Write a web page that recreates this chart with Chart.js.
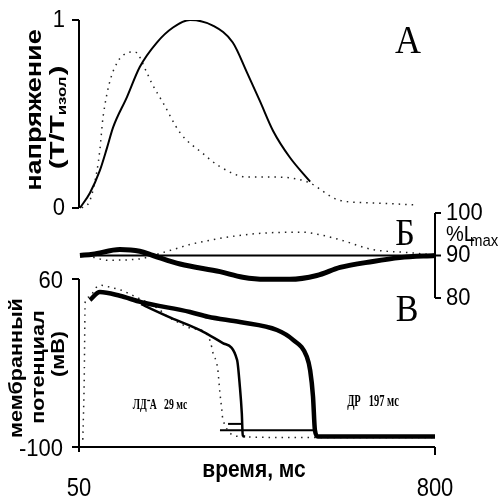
<!DOCTYPE html>
<html>
<head>
<meta charset="utf-8" />
<title>Сокращение и потенциал действия</title>
<script src="https://cdn.jsdelivr.net/npm/chart.js@4/dist/chart.umd.min.js"></script>
<style>
  html, body { margin: 0; padding: 0; background: #fff; }
  #wrap { width: 498px; height: 501px; }
</style>
</head>
<body>
<div id="wrap"><canvas id="myChart" width="498" height="501"></canvas></div>
<script>
// ---- data (time in ms) ----
var xTicks = [50, 800];

// A: tension T/Tизол
var tA_solid = [52, 73, 94, 109, 122, 151, 178, 214, 248, 284, 332, 374, 404, 431, 459, 494, 537];
var vA_solid = [0, 0.08, 0.20, 0.32, 0.43, 0.59, 0.75, 0.88, 0.96, 1.0, 0.97, 0.88, 0.72, 0.57, 0.41, 0.27, 0.14];
var tA_dots = [56, 73, 88, 94, 101, 132, 168, 193, 204, 227, 263, 311, 347, 404, 459, 530, 600, 669, 762];
var vA_dots = [0, 0.04, 0.2, 0.31, 0.49, 0.78, 0.83, 0.72, 0.66, 0.56, 0.40, 0.29, 0.22, 0.165, 0.165, 0.14, 0.04, 0.027, 0.016];
var yTicksA = [0, 1];

// Б: length %Lmax
var tB_ref = [52, 800];
var vB_ref = [90, 90];
var tB_thick = [52, 79, 136, 178, 206, 263, 347, 395, 442, 494, 551, 600, 669, 726, 800];
var vB_thick = [90, 90.3, 91.4, 91.0, 90, 88, 86.2, 84.9, 84.4, 84.4, 85.3, 87.2, 88.6, 89.5, 90];
var tB_dots = [80, 109, 178, 206, 227, 263, 284, 410, 522, 557, 600, 669, 741, 796];
var vB_dots = [89.6, 88.9, 89.2, 90, 90.7, 91.9, 92.6, 95, 95.5, 94.9, 93.7, 91.4, 90.7, 90.2];
var yTicksB = [80, 90, 100];

// В: membrane potential, mV
var tV_thick = [73, 94, 136, 181, 284, 322, 389, 467, 501, 530, 537, 543, 547, 553, 800];
var vV_thick = [40, 47.6, 44, 38, 28.6, 24, 19, 11.4, 2, -14, -27, -52, -84, -90, -90];
var tV_thin = [181, 244, 305, 353, 383, 389, 393, 395, 400];
var vV_thin = [36, 23, 11.4, -1, -17, -43, -68, -89, -90];
var tV_dots = [58, 61, 63, 73, 84, 96, 117, 138, 160, 216, 237, 258, 286, 315, 327, 332, 342, 347, 351, 353, 389, 500, 650, 800];
var vV_dots = [-93, -36, 38, 43, 51, 54, 52, 49.5, 45, 32, 24, 19, 13, 9.5, 0, -10, -25, -49, -65, -74, -90, -91, -91, -91];
var tV_barLong = [347, 547];
var vV_barLong = [-84, -84];
var tV_barShort = [364, 395];
var vV_barShort = [-78, -78];
var yTicksV = [-100, 60];

function pts(xs, ys) {
  return xs.map(function (v, i) { return { x: v, y: ys[i] }; });
}

// chart area in pixels (x axis 50..800 spans 79..435)
var areaTop = 20, areaBottom = 447;
// value range for a hidden y scale so that vHi sits at pHi and vLo at pLo
function range(vHi, pHi, vLo, pLo) {
  var k = (vHi - vLo) / (pLo - pHi);
  return { max: vHi + (pHi - areaTop) * k, min: vLo - (areaBottom - pLo) * k };
}
var rA = range(1, 20, 0, 208);
var rB = range(100, 213, 80, 298);
var rV = range(60, 279, -100, 447);

function ds(data, axis, width, dash, color) {
  return {
    data: data, yAxisID: axis, borderColor: color || '#000', borderWidth: width,
    borderDash: dash || [], pointRadius: 0, fill: false,
    tension: 0.4, cubicInterpolationMode: 'monotone'
  };
}

var SANS = '"Liberation Sans", Arial, sans-serif';

function txt(ctx, s, x, y, font, align, sy) {
  ctx.save();
  ctx.translate(x, y);
  ctx.scale(1, sy || 1);
  ctx.font = font;
  ctx.textAlign = align || 'center';
  ctx.textBaseline = 'middle';
  ctx.fillText(s, 0, 0);
  ctx.restore();
}

// rotated text, stretched along its length by k
function vtxt(ctx, s, x, y, font, k) {
  ctx.save();
  ctx.translate(x, y);
  ctx.rotate(-Math.PI / 2);
  ctx.scale(k || 1, 1);
  ctx.font = font;
  ctx.textAlign = 'center';
  ctx.textBaseline = 'middle';
  ctx.fillText(s, 0, 0);
  ctx.restore();
}

var axesPlugin = {
  id: 'axes',
  afterDraw: function (chart) {
    var ctx = chart.ctx, s = chart.scales;
    var x0 = s.x.getPixelForValue(xTicks[0]), x1 = s.x.getPixelForValue(xTicks[1]);
    ctx.save();
    ctx.strokeStyle = '#000';
    ctx.fillStyle = '#000';
    ctx.lineWidth = 2;
    function seg(a, b, c, d) { ctx.beginPath(); ctx.moveTo(a, b); ctx.lineTo(c, d); ctx.stroke(); }
    var num = '22px ' + SANS;

    // A axis
    var a1 = s.yA.getPixelForValue(yTicksA[1]), a0 = s.yA.getPixelForValue(yTicksA[0]);
    seg(x0, a1, x0, a0);
    yTicksA.forEach(function (v) {
      var p = s.yA.getPixelForValue(v);
      seg(x0 - 7, p, x0, p);
      txt(ctx, String(v), x0 - 14, p, num, 'right', 1.12);
    });

    // В axis
    var v1 = s.yV.getPixelForValue(yTicksV[1]), v0 = s.yV.getPixelForValue(yTicksV[0]);
    seg(x0, v1, x0, v0);
    yTicksV.forEach(function (v) {
      var p = s.yV.getPixelForValue(v);
      seg(x0 - 7, p, x0, p);
      txt(ctx, String(v), x0 - 16, p + 2, num, 'right', 1.12);
    });

    // x axis
    seg(x0 - 6, v0, x1, v0);
    seg(x0, v0, x0, v0 + 5);
    seg(x1, v0, x1, v0 + 8);
    xTicks.forEach(function (v) {
      txt(ctx, String(v), s.x.getPixelForValue(v), 489, num, 'center', 1.15);
    });
    txt(ctx, 'время, мс', 254, 470, 'bold 21px ' + SANS, 'center', 1.15);

    // Б axis (right)
    var b1 = s.yB.getPixelForValue(100), b0 = s.yB.getPixelForValue(80);
    seg(x1, b1, x1, b0);
    yTicksB.forEach(function (v) {
      var p = s.yB.getPixelForValue(v);
      seg(x1, p, x1 + 6, p);
      txt(ctx, String(v), x1 + 11, p, num, 'left', 1.12);
    });
    var pm = (b1 + s.yB.getPixelForValue(90)) / 2 + 1;
    txt(ctx, '%L', x1 + 11, pm, '20px ' + SANS, 'left', 1.1);
    txt(ctx, 'max', x1 + 35, pm + 6, '15px ' + SANS, 'left', 1.1);

    // axis titles
    vtxt(ctx, 'напряжение', 35, 110, 'bold 22px ' + SANS, 1.23);
    ctx.save();
    ctx.translate(58, 118);
    ctx.rotate(-Math.PI / 2);
    ctx.scale(1.4, 1);
    ctx.textBaseline = 'middle';
    ctx.font = 'bold 21px ' + SANS;
    var w1 = ctx.measureText('(T/T').width;
    ctx.font = 'bold 12px ' + SANS;
    var w2 = ctx.measureText('изол').width;
    ctx.font = 'bold 21px ' + SANS;
    var w3 = ctx.measureText(')').width;
    var start = -(w1 + w2 + w3) / 2;
    ctx.textAlign = 'left';
    ctx.fillText('(T/T', start, 0);
    ctx.font = 'bold 12px ' + SANS;
    ctx.fillText('изол', start + w1, 5);
    ctx.font = 'bold 21px ' + SANS;
    ctx.fillText(')', start + w1 + w2 + 1, 0);
    ctx.restore();

    vtxt(ctx, 'мембранный', 17, 368, 'bold 18px ' + SANS, 1.2);
    vtxt(ctx, 'потенциал', 39, 367, 'bold 18px ' + SANS, 1.2);
    vtxt(ctx, '(мВ)', 59, 354, 'bold 18px ' + SANS, 1.2);

    // panel letters
    txt(ctx, 'A', 408, 43, '36px "Liberation Serif", "DejaVu Serif", serif', 'center', 1.1);
    txt(ctx, 'Б', 405, 235, '34px "Liberation Serif", "DejaVu Serif", serif', 'center', 1.1);
    txt(ctx, 'В', 407, 311, '34px "Liberation Serif", "DejaVu Serif", serif', 'center', 1.1);

    // duration notes
    ctx.save();
    ctx.translate(160, 405);
    ctx.scale(0.75, 1.1);
    ctx.font = 'bold 13px "Liberation Serif", serif';
    ctx.textAlign = 'center';
    ctx.textBaseline = 'middle';
    ctx.fillText('ЛД\u207BА   29 мс', 0, 0);
    ctx.restore();
    ctx.save();
    ctx.translate(373, 402);
    ctx.scale(0.75, 1.15);
    ctx.font = 'bold 14px "Liberation Serif", serif';
    ctx.textAlign = 'center';
    ctx.textBaseline = 'middle';
    ctx.fillText('ДР   197 мс', 0, 0);
    ctx.restore();

    ctx.restore();
  }
};

var ctx = document.getElementById('myChart');
var myChart = new Chart(ctx, {
  type: 'line',
  data: {
    datasets: [
      ds(pts(tA_solid, vA_solid), 'yA', 2),
      ds(pts(tA_dots, vA_dots), 'yA', 1.5, [1.5, 5], '#222'),
      ds(pts(tB_ref, vB_ref), 'yB', 2),
      ds(pts(tB_thick, vB_thick), 'yB', 5),
      ds(pts(tB_dots, vB_dots), 'yB', 1.5, [1.5, 5], '#222'),
      ds(pts(tV_thick, vV_thick), 'yV', 4.5),
      ds(pts(tV_thin, vV_thin), 'yV', 2.5),
      ds(pts(tV_dots, vV_dots), 'yV', 1.5, [1.5, 5], '#222'),
      ds(pts(tV_barLong, vV_barLong), 'yV', 2),
      ds(pts(tV_barShort, vV_barShort), 'yV', 2)
    ]
  },
  options: {
    responsive: false,
    animation: false,
    layout: { padding: { left: 79, right: 63, top: areaTop, bottom: 501 - areaBottom } },
    plugins: { legend: { display: false }, tooltip: { enabled: false }, title: { display: false } },
    scales: {
      x: { type: 'linear', min: 50, max: 800, display: false },
      yA: { type: 'linear', min: rA.min, max: rA.max, display: false },
      yB: { type: 'linear', min: rB.min, max: rB.max, display: false },
      yV: { type: 'linear', min: rV.min, max: rV.max, display: false }
    }
  },
  plugins: [axesPlugin]
});
</script>
</body>
</html>
